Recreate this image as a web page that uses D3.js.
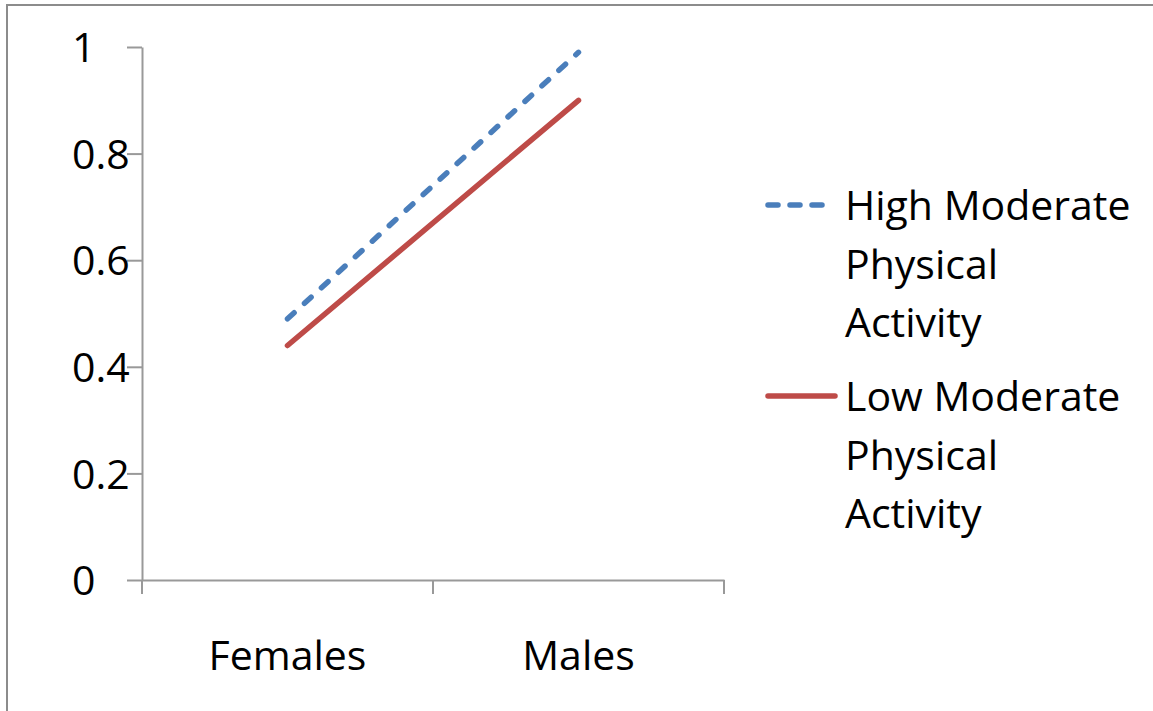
<!DOCTYPE html>
<html>
<head>
<meta charset="utf-8">
<script src="https://cdn.jsdelivr.net/npm/d3@7"></script>
<style>
  html, body { margin: 0; padding: 0; background: #fff; }
  svg { display: block; font-family: "Open Sans", sans-serif; }
</style>
</head>
<body>
<svg id="chart" width="1153" height="711"></svg>
<script>
// Categories and series
const categories = ["Females", "Males"];
const highValues = [0.49, 0.99];
const lowValues = [0.44, 0.90];
const seriesNames = [
  ["High Moderate", "Physical", "Activity"],
  ["Low Moderate", "Physical", "Activity"]
];
const yTickValues = [0, 0.2, 0.4, 0.6, 0.8, 1];
const yTickLabels = ["0", "0.2", "0.4", "0.6", "0.8", "1"];

const svg = d3.select("#chart");
const axisColor = "#999999";
const fontSize = 41;
const dashPattern = "9,14";

// Outer frame
svg.append("rect")
  .attr("x", 7).attr("y", 5)
  .attr("width", 1160).attr("height", 720)
  .attr("fill", "none").attr("stroke", "#8c8c8c").attr("stroke-width", 2);

const plot = { left: 142, right: 724, top: 47, bottom: 580 };

const x = d3.scaleBand().domain(categories).range([plot.left, plot.right]);
const y = d3.scaleLinear().domain([0, 1]).range([plot.bottom, plot.top]);

// Y axis
const yAxis = svg.append("g")
  .attr("transform", `translate(${plot.left},0)`)
  .call(d3.axisLeft(y).tickValues(yTickValues)
    .tickFormat((d, i) => yTickLabels[i]).tickSize(15).tickSizeOuter(0));
yAxis.select(".domain").attr("stroke", axisColor).attr("stroke-width", 2);
yAxis.selectAll(".tick line").attr("stroke", axisColor).attr("stroke-width", 2);
yAxis.selectAll(".tick text")
  .attr("x", 72 - plot.left).attr("dy", "0.36em")
  .attr("text-anchor", "start")
  .attr("font-size", fontSize).attr("font-family", "Open Sans, sans-serif")
  .attr("fill", "#000");

// X axis with ticks on category boundaries
const xAxis = svg.append("g")
  .attr("transform", `translate(0,${plot.bottom})`)
  .call(d3.axisBottom(x).tickSize(0).tickSizeOuter(0).tickPadding(61));
xAxis.select(".domain").attr("stroke", axisColor).attr("stroke-width", 2);
xAxis.selectAll(".tick text")
  .attr("font-size", fontSize).attr("font-family", "Open Sans, sans-serif")
  .attr("fill", "#000");

const boundaries = categories.map(c => x(c)).concat([x(categories[categories.length - 1]) + x.bandwidth()]);
xAxis.selectAll("line.bound")
  .data(boundaries)
  .enter().append("line")
  .attr("class", "bound")
  .attr("x1", d => d).attr("x2", d => d)
  .attr("y1", 0).attr("y2", 14)
  .attr("stroke", axisColor).attr("stroke-width", 2);

// Series lines
const line = d3.line()
  .x((d, i) => x(categories[i]) + x.bandwidth() / 2)
  .y(d => y(d));

const series = [
  { values: highValues, color: "#4A7EBB", dash: dashPattern },
  { values: lowValues, color: "#BE4B48", dash: null }
];

series.forEach(s => {
  svg.append("path")
    .datum(s.values)
    .attr("d", line)
    .attr("fill", "none")
    .attr("stroke", s.color)
    .attr("stroke-width", 5.5)
    .attr("stroke-linecap", "round")
    .attr("stroke-dasharray", s.dash);
});

// Legend
const legend = svg.append("g");
const legendRows = [205, 396];
const lineGap = 58.5;
series.forEach((s, i) => {
  const g = legend.append("g").attr("transform", `translate(0,${legendRows[i]})`);
  g.append("line")
    .attr("x1", 768).attr("x2", s.dash ? 828 : 835)
    .attr("y1", 0).attr("y2", 0)
    .attr("stroke", s.color).attr("stroke-width", 5.5)
    .attr("stroke-linecap", "round")
    .attr("stroke-dasharray", s.dash ? "10,12" : null);
  const t = g.append("text")
    .attr("x", 845).attr("y", 15)
    .attr("font-size", fontSize).attr("fill", "#000");
  seriesNames[i].forEach((word, j) => {
    t.append("tspan").attr("x", 845).attr("y", 15 + j * lineGap).text(word);
  });
});
</script>
</body>
</html>
